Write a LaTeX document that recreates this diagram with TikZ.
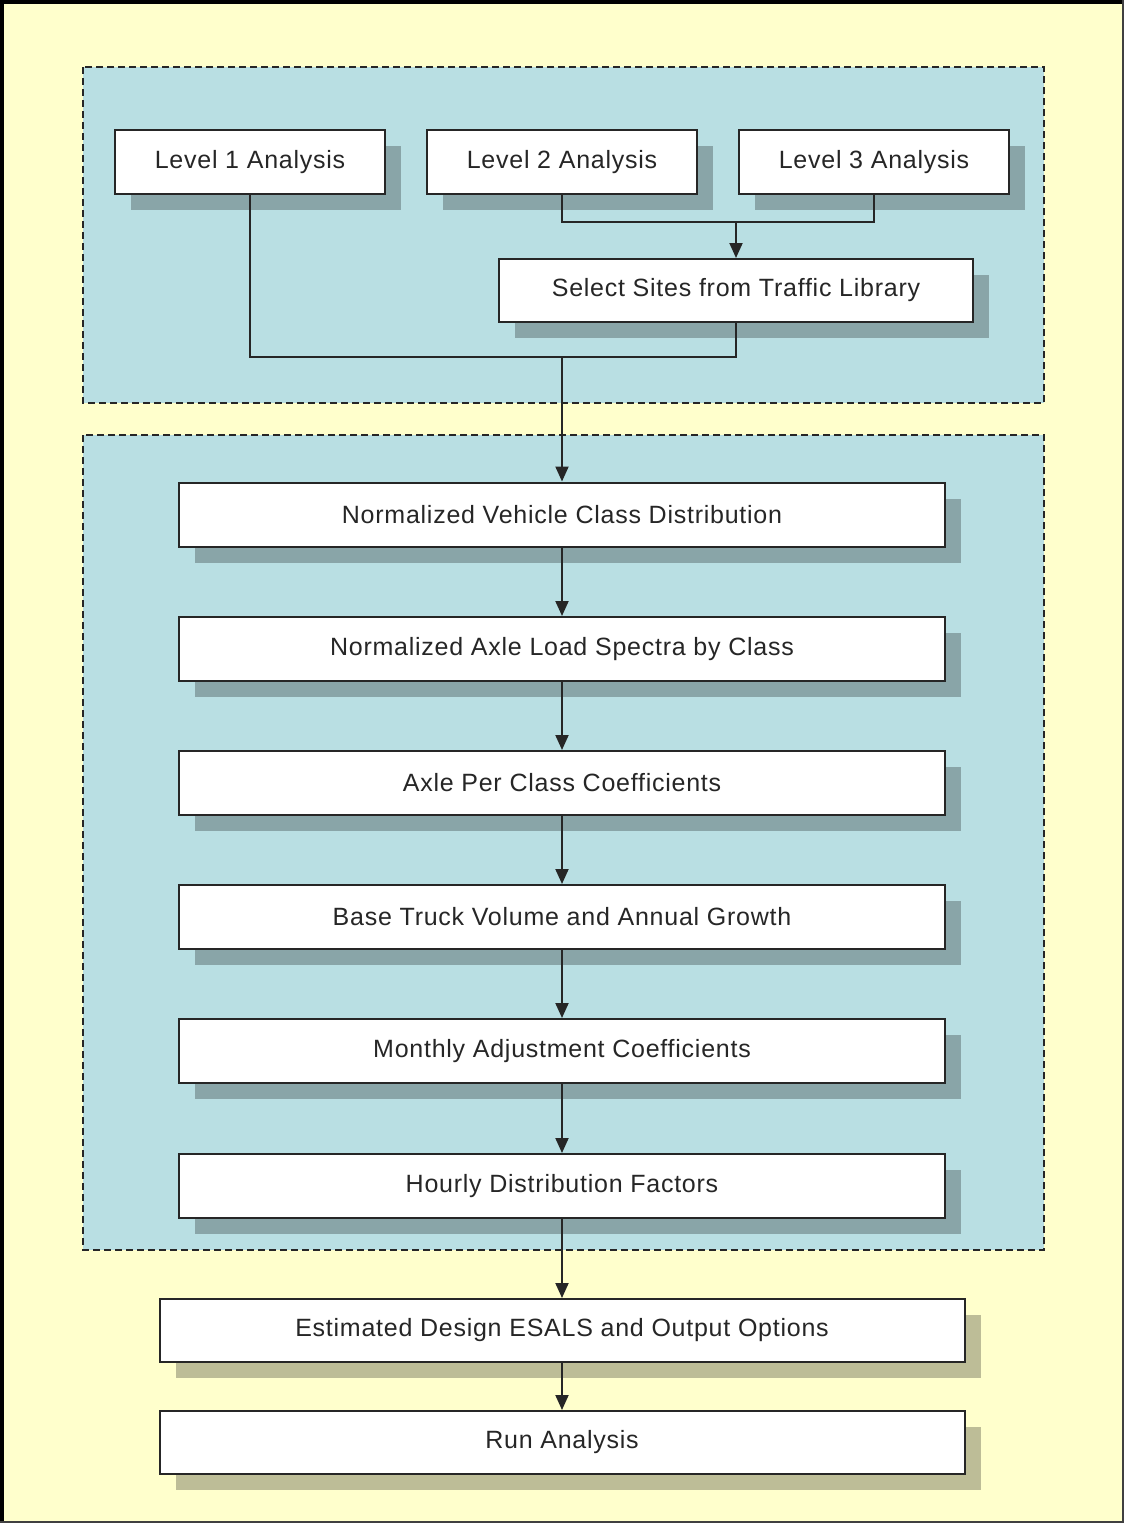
\documentclass[tikz,border=0pt]{standalone}
\usepackage{fontspec}
\setmainfont{Liberation Sans}[LetterSpace=3]
\usetikzlibrary{arrows.meta, shadows}

\definecolor{paper}{RGB}{255,255,204}
\definecolor{panel}{RGB}{185,223,227}

\begin{document}
\begin{tikzpicture}
        [x=1pt, y=-1pt,
        every node/.style={font=\fontsize{25}{30}\selectfont, text=black!85},
        stepbox/.style={draw=black!85, line width=2pt, fill=white, inner sep=0pt,
          minimum height=64pt,
          drop shadow={shadow xshift=16pt, shadow yshift=-16pt, fill=black, opacity=0.26}},
        levelbox/.style={stepbox, minimum width=270pt},
        widebox/.style={stepbox, minimum width=766pt},
        outbox/.style={stepbox, minimum width=805pt},
        panelbox/.style={fill=panel, draw=black!85, line width=1.5pt, dash pattern=on 7pt off 4pt},
        link/.style={line width=2pt, black!85},
        flow/.style={link, -{Triangle[width=13pt, length=15pt]}}]

    \useasboundingbox (0,0) rectangle (1124,1523);
    \fill[paper] (0,0) rectangle (1124,1523);
    \draw[line width=4pt] (2,1523) -- (2,2) -- (1124,2);
    \draw[line width=2pt, black!75] (1123,0) -- (1123,1522) -- (0,1522);

    % dashed panels
    \draw[panelbox] (83,67) rectangle (1044,403);
    \draw[panelbox] (83,435) rectangle (1044,1250);

    % analysis levels
    \node[levelbox] (lvlone) at (250,162) {Level 1 Analysis};
    \node[levelbox] (lvltwo) at (562,162) {Level 2 Analysis};
    \node[levelbox] (lvlthree) at (874,162) {Level 3 Analysis};
    \node[stepbox, minimum width=474pt, minimum height=63pt] (select) at (736,290.5)
      {Select Sites from Traffic Library};

    % traffic inputs
    \node[widebox] (vehicle) at (562,514.5) {Normalized Vehicle Class Distribution};
    \node[widebox] (spectra) at (562,649) {Normalized Axle Load Spectra by Class};
    \node[widebox] (coeff) at (562,783) {Axle Per Class Coefficients};
    \node[widebox] (volume) at (562,917) {Base Truck Volume and Annual Growth};
    \node[widebox] (monthly) at (562,1051) {Monthly Adjustment Coefficients};
    \node[widebox] (hourly) at (562,1186) {Hourly Distribution Factors};

    % outputs
    \node[outbox, minimum height=63pt] (esals) at (562,1330.5) {Estimated Design ESALS and Output Options};
    \node[outbox, minimum height=63pt] (run) at (562,1442.5) {Run Analysis};

    \coordinate (fork) at (736,222);
    \coordinate (merge) at (562,357);

    \draw[link] (lvltwo.south) |- (fork) -| (lvlthree.south);
    \draw[flow] (fork) -- (select.north);
    \draw[link] (lvlone.south) |- (merge) -| (select.south);
    \draw[flow] (merge) -- (vehicle.north);

    \foreach \from/\to in {vehicle/spectra, spectra/coeff, coeff/volume,
        volume/monthly, monthly/hourly, hourly/esals, esals/run}
      \draw[flow] (\from.south) -- (\to.north);
\end{tikzpicture}
\end{document}
